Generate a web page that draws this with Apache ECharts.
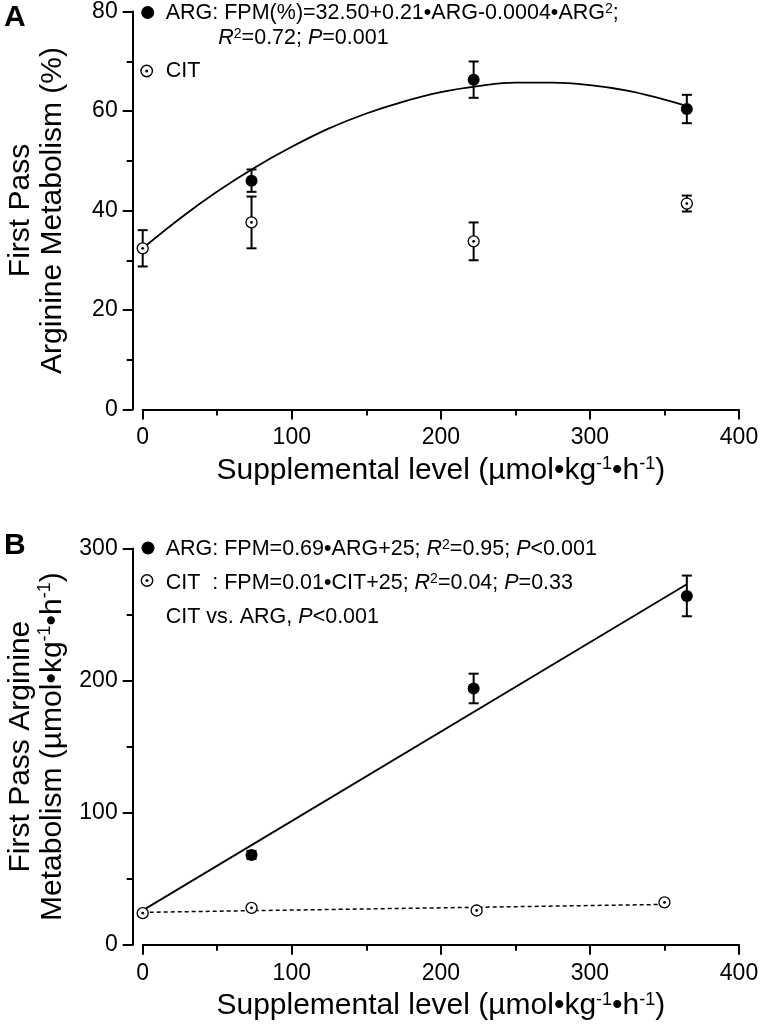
<!DOCTYPE html>
<html><head><meta charset="utf-8">
<script src="https://cdn.jsdelivr.net/npm/echarts@6/dist/echarts.min.js"></script>
<style>html,body{margin:0;padding:0;background:#fff}#c{width:761px;height:1029px}</style>
</head><body><div id="c"></div>
<script>
// ---------- Panel A (first pass metabolism, %) ----------
const xTicks = [0, 100, 200, 300, 400];
const argXA = [73, 222, 365];
const argYA = [46.0, 66.3, 60.4];
const argErrA = [2.25, 3.65, 2.85];
const citXA = [0, 73, 222, 365];
const citYA = [32.4, 37.6, 33.8, 41.4];
const citErrA = [3.65, 5.2, 3.8, 1.6];
// fitted quadratic curve
const fitXA = [0, 25, 50, 75, 100, 125, 150, 175, 200, 225, 250, 275, 300, 325, 350, 365];
const fitYA = [32.4, 38.4, 43.8, 48.6, 52.8, 56.5, 59.5, 61.9, 63.8, 65.0, 65.7, 65.7, 65.2, 64.1, 62.3, 61.0];
// ---------- Panel B (first pass metabolism, umol/kg/h) ----------
const argXB = [73, 222, 365];
const argYB = [68.0, 194.0, 264.1];
const argErrB = [3, 11.2, 15.4];
const citXB = [0, 73, 224, 350];
const citYB = [23.9, 27.9, 25.9, 32.0];
const argFitXB = [0, 365];
const argFitYB = [26, 273];
const citFitXB = [0, 350];
const citFitYB = [24.5, 30.5];

const F = 'Liberation Sans, Arial, Helvetica, sans-serif';
const zip = (a, b) => a.map((v, i) => [v, b[i]]);

function errSeries(xs, ys, es, idx) {
  return {
    type: 'custom', xAxisIndex: idx, yAxisIndex: idx, z: 3, silent: true,
    encode: { x: 0, y: [1, 2] },
    data: xs.map((x, i) => [x, ys[i] - es[i], ys[i] + es[i]]),
    renderItem(params, api) {
      const x = api.value(0);
      const lo = api.coord([x, api.value(1)]);
      const hi = api.coord([x, api.value(2)]);
      const w = 5, st = { stroke: '#000', lineWidth: 2 };
      return { type: 'group', children: [
        { type: 'line', shape: { x1: lo[0], y1: lo[1], x2: hi[0], y2: hi[1] }, style: st },
        { type: 'line', shape: { x1: lo[0] - w, y1: lo[1], x2: lo[0] + w, y2: lo[1] }, style: st },
        { type: 'line', shape: { x1: hi[0] - w, y1: hi[1], x2: hi[0] + w, y2: hi[1] }, style: st }
      ]};
    }
  };
}
function argScatter(xs, ys, idx) {
  return { type: 'scatter', xAxisIndex: idx, yAxisIndex: idx, z: 5, silent: true,
    symbol: 'circle', symbolSize: 12, itemStyle: { color: '#000', opacity: 1 }, data: zip(xs, ys) };
}
function citScatter(xs, ys, idx) {
  return [
    { type: 'scatter', xAxisIndex: idx, yAxisIndex: idx, z: 5, silent: true,
      symbol: 'circle', symbolSize: 11, itemStyle: { color: '#fff', borderColor: '#000', borderWidth: 1.3, opacity: 1 }, data: zip(xs, ys) },
    { type: 'scatter', xAxisIndex: idx, yAxisIndex: idx, z: 6, silent: true,
      symbol: 'circle', symbolSize: 2.8, itemStyle: { color: '#000', opacity: 1 }, data: zip(xs, ys) }
  ];
}

const supRich = {
  s: { fontSize: 18, fontFamily: F, color: '#000', verticalAlign: 'top', lineHeight: 16 }
};
function xAxis(idx) {
  return {
    type: 'value', gridIndex: idx, min: 0, max: 400, interval: 100,
    axisLine: { onZero: false, lineStyle: { color: '#000', width: 2 } },
    axisTick: { length: 10, lineStyle: { color: '#000', width: 2 } },
    minorTick: { show: true, splitNumber: 2, length: 6, lineStyle: { color: '#000', width: 2 } },
    splitLine: { show: false }, minorSplitLine: { show: false },
    axisLabel: { color: '#000', fontSize: 23, fontFamily: F, margin: 17,
      formatter: v => xTicks.includes(v) ? String(v) : '' },
    name: 'Supplemental level (µmol•kg{s|-1}•h{s|-1})',
    nameLocation: 'middle', nameGap: 46,
    nameTextStyle: { color: '#000', fontSize: 30, fontFamily: F, rich: supRich }
  };
}
function yAxis(idx, max, interval, name) {
  return {
    type: 'value', gridIndex: idx, min: 0, max: max, interval: interval, offset: 10,
    axisLine: { show: true, onZero: false, lineStyle: { color: '#000', width: 2 } },
    axisTick: { show: true, length: 10, lineStyle: { color: '#000', width: 2 } },
    minorTick: { show: true, splitNumber: 2, length: 6, lineStyle: { color: '#000', width: 2 } },
    splitLine: { show: false }, minorSplitLine: { show: false },
    axisLabel: { color: '#000', fontSize: 23, fontFamily: F, margin: 15 },
    name: name, nameLocation: 'middle', nameRotate: 90, nameGap: 64,
    nameTextStyle: { color: '#000', fontSize: 30, fontFamily: F, lineHeight: 32, rich: supRich }
  };
}

const LF = 21.5;
const legRich = {
  s: { fontSize: 14, fontFamily: F, color: '#000', verticalAlign: 'top', lineHeight: 15 },
  i: { fontSize: LF, fontFamily: F, color: '#000', fontStyle: 'italic' }
};
function legText(x, y, text) {
  return { type: 'text', x: x, y: y, z: 100, silent: true,
    style: { text: text, fontSize: LF, fontFamily: F, fill: '#000',
      align: 'left', verticalAlign: 'middle', textAlign: 'left', textVerticalAlign: 'middle', rich: legRich } };
}
function dotMark(x, y) {
  return { type: 'circle', z: 100, silent: true, shape: { cx: x, cy: y, r: 6.5 }, style: { fill: '#000' } };
}
function ringMark(x, y) {
  return [
    { type: 'circle', z: 100, silent: true, shape: { cx: x, cy: y, r: 5.7 }, style: { fill: '#fff', stroke: '#000', lineWidth: 1.4 } },
    { type: 'circle', z: 101, silent: true, shape: { cx: x, cy: y, r: 1.5 }, style: { fill: '#000' } }
  ];
}
function panelLabel(x, y, t) {
  return { type: 'text', x: x, y: y, z: 100, silent: true,
    style: { text: t, font: 'bold 30px ' + F, fontSize: 30, fontWeight: 'bold', fontFamily: F, fill: '#000',
      align: 'left', verticalAlign: 'middle', textAlign: 'left', textVerticalAlign: 'middle' } };
}

const chart = echarts.init(document.getElementById('c'), null, { renderer: 'canvas' });
chart.setOption({
  backgroundColor: '#fff',
  animation: false,
  grid: [
    { left: 142.7, right: 22, top: 11.5, height: 398, outerBoundsMode: 'none', containLabel: false },
    { left: 142.7, right: 22, top: 548.5, height: 396.2, outerBoundsMode: 'none', containLabel: false }
  ],
  xAxis: [xAxis(0), xAxis(1)],
  yAxis: [
    yAxis(0, 80, 20, 'First Pass\nArginine Metabolism (%)'),
    yAxis(1, 300, 100, 'First Pass Arginine\nMetabolism (µmol•kg{s|-1}•h{s|-1})')
  ],
  series: [
    { type: 'line', xAxisIndex: 0, yAxisIndex: 0, z: 2, silent: true, smooth: 0.4, showSymbol: false,
      lineStyle: { color: '#000', width: 1.8 }, data: zip(fitXA, fitYA) },
    errSeries(argXA, argYA, argErrA, 0),
    errSeries(citXA, citYA, citErrA, 0),
    argScatter(argXA, argYA, 0),
    ...citScatter(citXA, citYA, 0),

    { type: 'line', xAxisIndex: 1, yAxisIndex: 1, z: 2, silent: true, showSymbol: false,
      lineStyle: { color: '#000', width: 1.8 }, data: zip(argFitXB, argFitYB) },
    { type: 'line', xAxisIndex: 1, yAxisIndex: 1, z: 2, silent: true, showSymbol: false,
      lineStyle: { color: '#000', width: 1.5, type: [4, 3] }, data: zip(citFitXB, citFitYB) },
    errSeries(argXB, argYB, argErrB, 1),
    argScatter(argXB, argYB, 1),
    ...citScatter(citXB, citYB, 1)
  ],
  graphic: [
    panelLabel(4, 18, 'A'),
    dotMark(147.7, 12.5),
    legText(165.7, 13.3, 'ARG: FPM(%)=32.50+0.21•ARG-0.0004•ARG{s|2};'),
    legText(218.3, 38.3, '{i|R}{s|2}=0.72; {i|P}=0.001'),
    ...ringMark(146.7, 71),
    legText(165.7, 71, 'CIT'),

    panelLabel(4, 546, 'B'),
    dotMark(148, 548),
    legText(165.7, 549, 'ARG: FPM=0.69•ARG+25; {i|R}{s|2}=0.95; {i|P}<0.001'),
    ...ringMark(147, 580.5),
    legText(165.7, 583.3, 'CIT  : FPM=0.01•CIT+25; {i|R}{s|2}=0.04; {i|P}=0.33'),
    legText(165.7, 617, 'CIT vs. ARG, {i|P}<0.001')
  ]
});
</script>
</body></html>
